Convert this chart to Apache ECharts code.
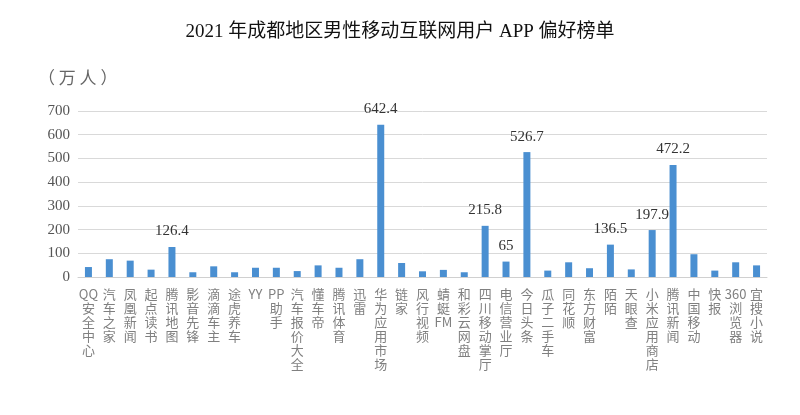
<!DOCTYPE html>
<html>
<head>
<meta charset="utf-8">
<script src="https://cdn.jsdelivr.net/npm/echarts@6/dist/echarts.min.js"></script>
<style>
  html, body { margin: 0; padding: 0; background: #fff; }
  #chartmain { width: 800px; height: 415px; }
</style>
</head>
<body>
<div id="chartmain"></div>
<script>
var apps = ['QQ安全中心', '汽车之家', '凤凰新闻', '起点读书', '腾讯地图', '影音先锋', '滴滴车主', '途虎养车', 'YY', 'PP助手',
    '汽车报价大全', '懂车帝', '腾讯体育', '迅雷', '华为应用市场', '链家', '风行视频', '蜻蜓FM', '和彩云网盘', '四川移动掌厅',
    '电信营业厅', '今日头条', '瓜子二手车', '同花顺', '东方财富', '陌陌', '天眼查', '小米应用商店', '腾讯新闻', '中国移动',
    '快报', '360浏览器', '宜搜小说'];
var users = [42, 75, 69, 31, 126.4, 20, 45, 20, 39, 39,
    25, 49, 39, 75, 642.4, 59, 24, 30, 20, 215.8,
    65, 526.7, 27, 62, 37, 136.5, 32, 197.9, 472.2, 96,
    27, 62, 49];
// only these bars carry a value label
var labelled = ['腾讯地图', '华为应用市场', '四川移动掌厅', '电信营业厅', '今日头条', '陌陌', '小米应用商店', '腾讯新闻'];
var yTicks = [0, 100, 200, 300, 400, 500, 600, 700];

// stack CJK chars vertically, keep runs of latin letters / digits together
function verticalLabel(s) {
    var parts = s.match(/[A-Za-z0-9]+|./g);
    return parts.join('\n');
}

var chart = echarts.init(document.getElementById('chartmain'), null, { renderer: 'canvas', width: 800, height: 415 });

var barData = apps.map(function (name, i) {
    return {
        value: users[i],
        label: { show: labelled.indexOf(name) >= 0 }
    };
});

chart.setOption({
    animation: false,
    title: {
        text: '2021 年成都地区男性移动互联网用户 APP 偏好榜单',
        left: 'center',
        top: 18,
        textStyle: {
            fontFamily: 'Liberation Serif, "Noto Sans CJK SC", serif',
            fontSize: 19,
            fontWeight: 'normal',
            color: '#111'
        }
    },
    graphic: [{
        type: 'text',
        left: 38,
        top: 69,
        style: {
            text: '（ 万 人 ）',
            font: '17px "Noto Sans CJK SC", sans-serif',
            fill: '#666'
        }
    }],
    grid: { left: 78, right: 33, top: 111, bottom: 138 },
    xAxis: {
        type: 'category',
        data: apps,
        axisTick: { show: false },
        axisLine: { lineStyle: { color: '#d0d0d0' } },
        axisLabel: {
            interval: 0,
            color: '#808080',
            fontSize: 13,
            lineHeight: 14,
            margin: 10,
            verticalAlign: 'top',
            fontFamily: '"Noto Sans CJK SC", sans-serif',
            formatter: verticalLabel
        }
    },
    yAxis: {
        type: 'value',
        min: yTicks[0],
        max: yTicks[yTicks.length - 1],
        interval: 100,
        axisLine: { show: false },
        axisTick: { show: false },
        splitLine: { lineStyle: { color: '#d9d9d9' } },
        axisLabel: {
            color: '#555',
            fontSize: 15,
            margin: 8,
            fontFamily: 'Liberation Serif, serif'
        }
    },
    series: [{
        type: 'bar',
        data: barData,
        barWidth: 7,
        itemStyle: { color: '#4a8fd1' },
        label: {
            position: 'top',
            distance: 8,
            color: '#333',
            fontSize: 15,
            fontFamily: 'Liberation Serif, serif'
        }
    }]
});
</script>
</body>
</html>
